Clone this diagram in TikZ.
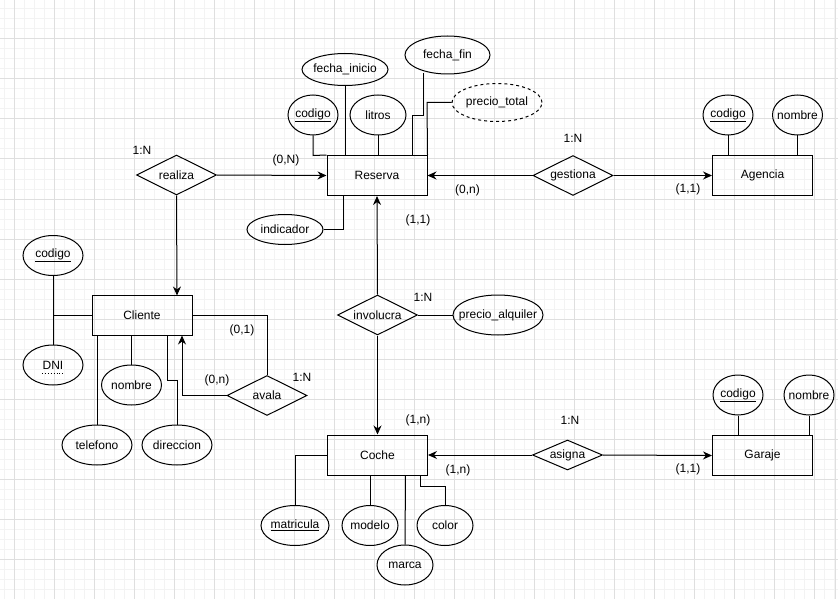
\documentclass[tikz,border=0pt]{standalone}
\usepackage{fontspec}
\setmainfont{Liberation Sans}
\usetikzlibrary{shapes.geometric,arrows.meta}
\newcommand\zw[1]{\makebox[0pt]{#1}}
\definecolor{minorg}{HTML}{F3F3F3}
\definecolor{majorg}{HTML}{DFDFDF}
\begin{document}
\begin{tikzpicture}[x=1pt,y=-1pt,
  every node/.style={font=\fontsize{12}{14}\selectfont, inner sep=0pt},
  ent/.style={draw, rectangle, minimum width=100pt, minimum height=40pt, line width=1pt},
  attr/.style={draw, ellipse, line width=1pt},
  rel/.style={draw, diamond, line width=1pt},
  ln/.style={line width=1pt},
  arr/.style={line width=1pt, -{Stealth[length=9pt,width=8pt]}},
  card/.style={font=\fontsize{12}{14}\selectfont},
  minorgrid/.style={draw=minorg, line width=1pt},
  majorgrid/.style={draw=majorg, line width=1pt}
]
\useasboundingbox (0,0) rectangle (838,599);
\fill[white] (0,0) rectangle (838,599);
% grid
\foreach \x in {4,14,...,834} \draw[minorgrid] (\x,0) -- (\x,599);
\foreach \y in {9,19,...,599} \draw[minorgrid] (0,\y) -- (838,\y);
\foreach \x in {14,54,...,834} \draw[majorgrid] (\x,0) -- (\x,599);
\foreach \y in {39,79,...,599} \draw[majorgrid] (0,\y) -- (838,\y);
\draw[majorgrid] (835,0) -- (835,599);

% entities
\node[ent] (reserva) at (377,175.5) {Reserva};
\node[ent] (cliente) at (142,315.5) {Cliente};
\node[ent] (coche) at (377.5,455) {Coche};
\node[ent] (agencia) at (762.5,175.5) {Agencia};
\node[ent] (garaje) at (762.5,455.5) {Garaje};

% relationships
\node[rel, minimum width=80pt, minimum height=40pt] (realiza) at (176.5,175) {\zw{realiza}};
\node[rel, minimum width=80pt, minimum height=40pt] (gestiona) at (573,175.5) {\zw{gestiona}};
\node[rel, minimum width=80pt, minimum height=40pt] (involucra) at (377.5,315) {\zw{involucra}};
\node[rel, minimum width=80pt, minimum height=40pt] (avala) at (267,395.5) {\zw{avala}};
\node[rel, minimum width=70pt, minimum height=30pt] (asigna) at (567.5,455) {\zw{asigna}};

% Reserva attributes
\node[attr, minimum width=50pt, minimum height=40pt] (rcod) at (313,115) {\zw{\underline{codigo}}};
\node[attr, minimum width=86pt, minimum height=32pt] (rfi) at (345,69.5) {\zw{fecha\_inicio}};
\node[attr, minimum width=56pt, minimum height=40pt] (rlit) at (378,115) {\zw{litros}};
\node[attr, minimum width=85pt, minimum height=38pt] (rff) at (447.5,55) {\zw{fecha\_fin}};
\node[attr, dashed, minimum width=90pt, minimum height=38pt] (rpt) at (497,102.5) {\zw{precio\_total}};
\node[attr, minimum width=76pt, minimum height=30pt] (rind) at (285,229.5) {\zw{indicador}};
\coordinate (ffb) at (423,73);

\draw[ln] (rcod.south) -- (313,155.5) -- (reserva.north west);
\draw[ln] (rfi.south) -- (345,155.5);
\draw[ln] (rlit.south) -- (378,155.5);
\draw[ln] (ffb) -- (423,116) -- (412,116) -- (412,155.5);
\draw[ln] (rpt.west) -- (427,102.5) -- (reserva.north east);
\draw[ln] (rind.east) -- (343,229.5) -- (343,195.5);

% Cliente attributes
\node[attr, minimum width=60pt, minimum height=40pt] (ccod) at (53,255.5) {\zw{\underline{codigo}}};
\node[attr, minimum width=60pt, minimum height=40pt] (cdni) at (53,365) {\zw{DNI}};
\draw[dotted, line width=0.9pt] ([xshift=-11pt,yshift=-8pt]cdni.center) -- ++(22,0);
\node[attr, minimum width=60pt, minimum height=40pt] (cnom) at (131.5,385) {\zw{nombre}};
\node[attr, minimum width=70pt, minimum height=40pt] (ctel) at (97,445) {\zw{telefono}};
\node[attr, minimum width=70pt, minimum height=40pt] (cdir) at (177,445) {\zw{direccion}};

\draw[ln] (ccod.south) -- (53,315.5) -- (cliente.west);
\draw[ln] (cdni.north) -- (53,315.5);
\draw[ln] (131.5,335.5) -- (cnom.north);
\draw[ln] (97,335.5) -- (ctel.north);
\draw[ln] (167,335.5) -- (167,380) -- (177,380) -- (cdir.north);

% Coche attributes
\node[attr, minimum width=68pt, minimum height=40pt] (cmat) at (295,525.5) {\zw{\underline{matricula}}};
\node[attr, minimum width=56pt, minimum height=40pt] (cmod) at (370,525.5) {\zw{modelo}};
\node[attr, minimum width=56pt, minimum height=40pt] (cmar) at (405,565) {\zw{marca}};
\node[attr, minimum width=56pt, minimum height=40pt] (ccol) at (445,525.5) {\zw{color}};

\draw[ln] (coche.west) -- (295,455) -- (cmat.north);
\draw[ln] (370,475) -- (cmod.north);
\draw[ln] (405.5,475) -- (cmar.north);
\draw[ln] (420,475) -- (420,486) -- (445,486) -- (ccol.north);

% Agencia attributes
\node[attr, minimum width=50pt, minimum height=40pt] (acod) at (728,115) {\zw{\underline{codigo}}};
\node[attr, minimum width=50pt, minimum height=40pt] (anom) at (797.5,115) {\zw{nombre}};
\draw[ln] (acod.south) -- (728,155.5);
\draw[ln] (anom.south) -- (797.5,155.5);

% Garaje attributes
\node[attr, minimum width=50pt, minimum height=40pt] (gcod) at (738,395) {\zw{\underline{codigo}}};
\node[attr, minimum width=50pt, minimum height=40pt] (gnom) at (809,395) {\zw{nombre}};
\draw[ln] (gcod.south) -- (738,435.5);
\draw[ln] (gnom.south) -- (809,435.5);

% involucra attribute
\node[attr, minimum width=90pt, minimum height=40pt] (ipa) at (498,315) {\zw{precio\_alquiler}};
\draw[ln] (involucra.east) -- (ipa.west);

% relationship connectors
\draw[arr] (realiza.east) -- (reserva.west);
\draw[arr] (realiza.south) -- (177,295.5);
\draw[arr] (gestiona.west) -- (reserva.east);
\draw[arr] (gestiona.east) -- (agencia.west);
\draw[arr] (involucra.north) -- (reserva.south);
\draw[arr] (involucra.south) -- (coche.north);
\draw[arr] (asigna.west) -- (coche.east);
\draw[arr] (asigna.east) -- (garaje.west);
\draw[ln] (avala.north) -- (267,315.5) -- (cliente.east);
\draw[arr] (avala.west) -- (182,395.5) -- (182,335.5);

% cardinality labels
\node[card] (l1) at (142,150) {1:N};
\node[card] (l2) at (286,160) {(0,N)};
\node[card] (l3) at (467.5,190) {(0,n)};
\node[card] (l4) at (573,138) {1:N};
\node[card] (l5) at (688,189) {(1,1)};
\node[card] (l6) at (418,220) {(1,1)};
\node[card] (l7) at (423,297) {1:N};
\node[card] (l8) at (242,330) {(0,1)};
\node[card] (l9) at (217,380) {(0,n)};
\node[card] (l10) at (302,377) {1:N};
\node[card] (l11) at (418,420) {(1,n)};
\node[card] (l12) at (458,470) {(1,n)};
\node[card] (l13) at (570,420) {1:N};
\node[card] (l14) at (688,469) {(1,1)};
\end{tikzpicture}
\end{document}
